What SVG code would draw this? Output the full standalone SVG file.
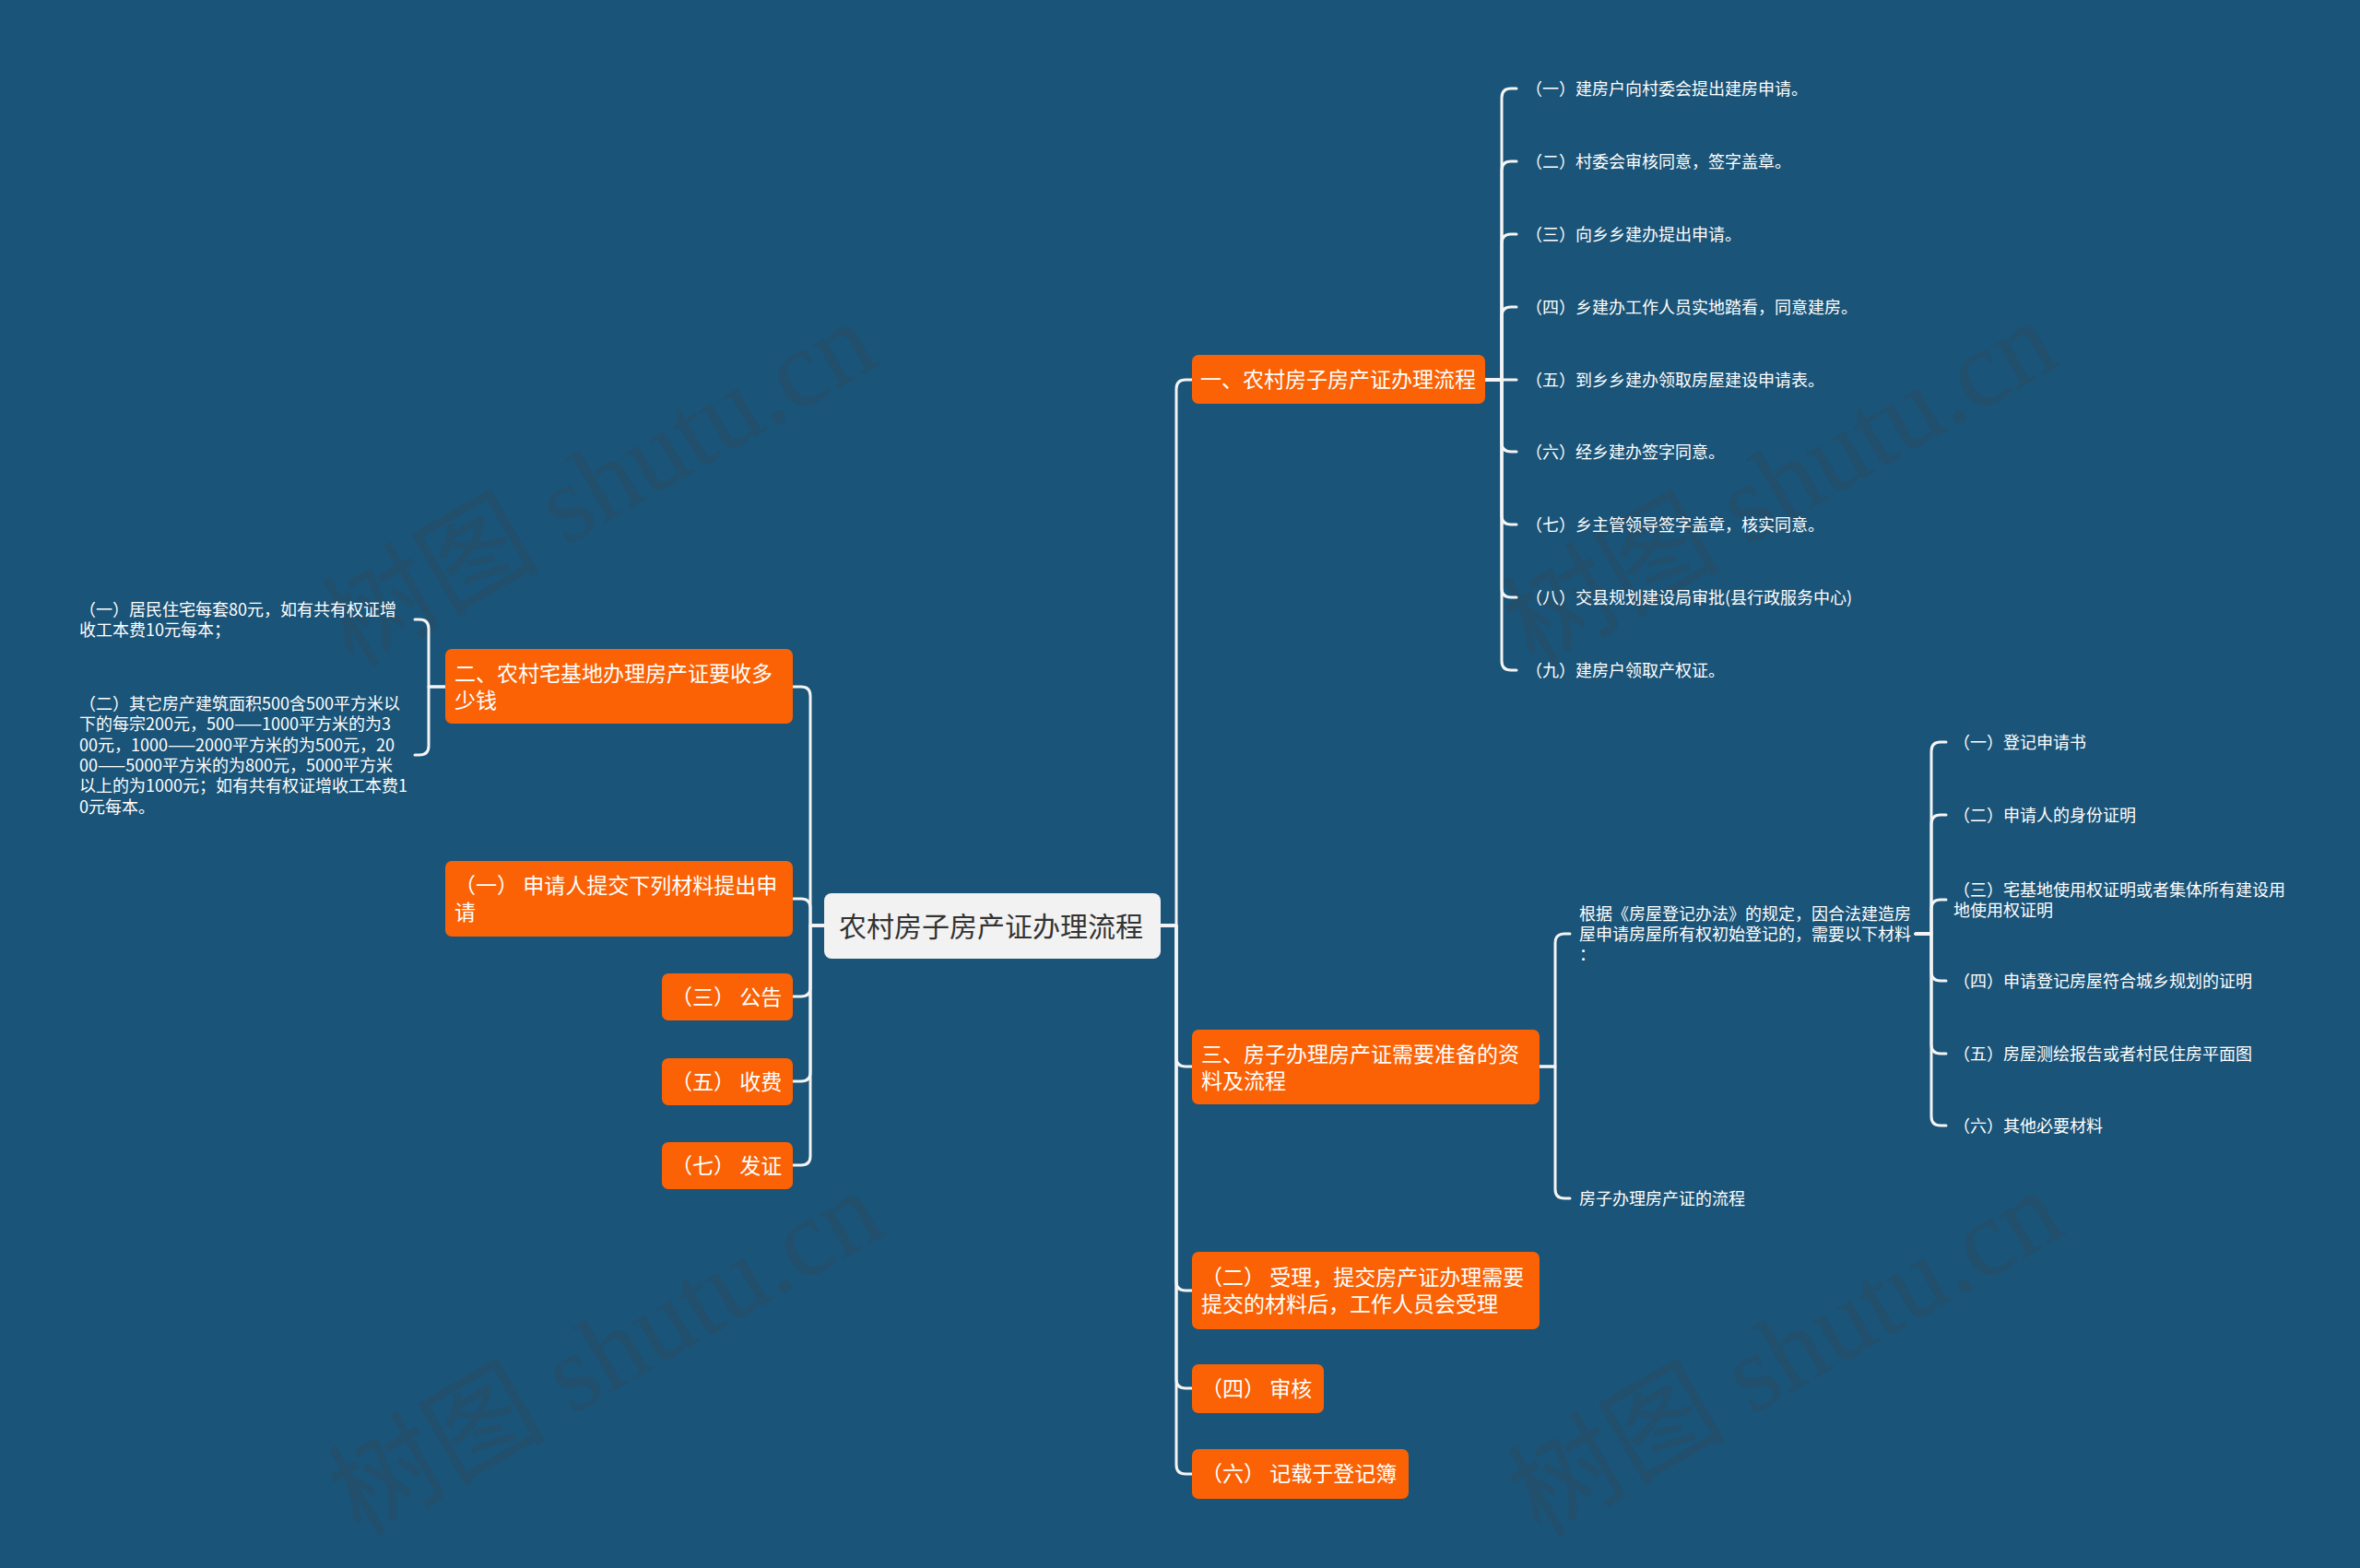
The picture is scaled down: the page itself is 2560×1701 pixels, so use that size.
<svg xmlns="http://www.w3.org/2000/svg" width="2560" height="1701" viewBox="0 0 2560 1701">
<style>
.bg{fill:#1a5478}
.wm{font-family:"Liberation Serif","Noto Sans CJK SC",serif;font-size:118px;fill:#3a4650;fill-opacity:0.28}
.root{fill:#f2f2f2}
.rootT{font-family:"Noto Sans CJK SC","Microsoft YaHei",sans-serif;font-size:30px;fill:#333333}
.box{fill:#fa6205}
.bt{font-family:"Noto Sans CJK SC","Microsoft YaHei",sans-serif;font-size:23px;fill:#ffffff}
.lt{font-family:"Noto Sans CJK SC","Microsoft YaHei",sans-serif;font-size:18px;fill:#ffffff}
.ln{fill:none;stroke:#f4f4f4;stroke-width:3;stroke-linecap:round;stroke-linejoin:round}
</style>
<rect class="bg" x="0" y="0" width="2560" height="1701"/>
<g id="watermark">
<text class="wm" x="383" y="725" transform="rotate(-30 383 725)">树图 shutu.cn</text>
<text class="wm" x="1664" y="725" transform="rotate(-30 1664 725)">树图 shutu.cn</text>
<text class="wm" x="390" y="1668" transform="rotate(-30 390 1668)">树图 shutu.cn</text>
<text class="wm" x="1670" y="1668" transform="rotate(-30 1670 1668)">树图 shutu.cn</text>
</g>
<g id="connectors" class="ln">
<path d="M1259 1004 H1276 V422 Q1276 412 1286 412 H1293"/>
<path d="M1259 1004 H1276 V1147 Q1276 1157 1286 1157 H1293"/>
<path d="M1259 1004 H1276 V1390 Q1276 1400 1286 1400 H1293"/>
<path d="M1259 1004 H1276 V1496 Q1276 1506 1286 1506 H1293"/>
<path d="M1259 1004 H1276 V1589 Q1276 1599 1286 1599 H1293"/>
<path d="M894 1004 H879 V755 Q879 745 869 745 H860"/>
<path d="M894 1004 H879 V985 Q879 975 869 975 H860"/>
<path d="M894 1004 H879 V1071 Q879 1081 869 1081 H860"/>
<path d="M894 1004 H879 V1163 Q879 1173 869 1173 H860"/>
<path d="M894 1004 H879 V1254 Q879 1264 869 1264 H860"/>
<path d="M1611 412 H1629 V106 Q1629 96 1639 96 H1645"/>
<path d="M1611 412 H1629 V185 Q1629 175 1639 175 H1645"/>
<path d="M1611 412 H1629 V264 Q1629 254 1639 254 H1645"/>
<path d="M1611 412 H1629 V343 Q1629 333 1639 333 H1645"/>
<path d="M1611 412 H1645"/>
<path d="M1611 412 H1629 V480 Q1629 490 1639 490 H1645"/>
<path d="M1611 412 H1629 V559 Q1629 569 1639 569 H1645"/>
<path d="M1611 412 H1629 V638 Q1629 648 1639 648 H1645"/>
<path d="M1611 412 H1629 V717 Q1629 727 1639 727 H1645"/>
<path d="M483 745 H465 V682 Q465 672 455 672 H450"/>
<path d="M483 745 H465 V809 Q465 819 455 819 H450"/>
<path d="M1670 1157 H1687 V1023 Q1687 1013 1697 1013 H1703"/>
<path d="M1670 1157 H1687 V1290 Q1687 1300 1697 1300 H1703"/>
<path d="M2078 1013 H2095 V815 Q2095 805 2105 805 H2111"/>
<path d="M2078 1013 H2095 V894 Q2095 884 2105 884 H2111"/>
<path d="M2078 1013 H2095 V986 Q2095 976 2105 976 H2111"/>
<path d="M2078 1013 H2095 V1054 Q2095 1064 2105 1064 H2111"/>
<path d="M2078 1013 H2095 V1133 Q2095 1143 2105 1143 H2111"/>
<path d="M2078 1013 H2095 V1211 Q2095 1221 2105 1221 H2111"/>
</g>
<g id="root">
<rect class="root" x="894" y="969" width="365" height="71" rx="8"/>
<text class="rootT" x="910" y="1016">农村房子房产证办理流程</text>
</g>
<g id="n1">
<rect class="box" x="1293" y="385" width="318" height="53" rx="7"/>
<text class="bt" x="1302" y="420">一、农村房子房产证办理流程</text>
</g>
<g id="n1-1"><text class="lt" x="1655" y="103">（一）建房户向村委会提出建房申请。</text></g>
<g id="n1-2"><text class="lt" x="1655" y="182">（二）村委会审核同意，签字盖章。</text></g>
<g id="n1-3"><text class="lt" x="1655" y="261">（三）向乡乡建办提出申请。</text></g>
<g id="n1-4"><text class="lt" x="1655" y="340">（四）乡建办工作人员实地踏看，同意建房。</text></g>
<g id="n1-5"><text class="lt" x="1655" y="419">（五）到乡乡建办领取房屋建设申请表。</text></g>
<g id="n1-6"><text class="lt" x="1655" y="497">（六）经乡建办签字同意。</text></g>
<g id="n1-7"><text class="lt" x="1655" y="576">（七）乡主管领导签字盖章，核实同意。</text></g>
<g id="n1-8"><text class="lt" x="1655" y="655">（八）交县规划建设局审批(县行政服务中心)</text></g>
<g id="n1-9"><text class="lt" x="1655" y="734">（九）建房户领取产权证。</text></g>
<g id="n3">
<rect class="box" x="1293" y="1117" width="377" height="81" rx="7"/>
<text class="bt" x="1303" y="1152">三、房子办理房产证需要准备的资</text>
<text class="bt" x="1303" y="1181">料及流程</text>
</g>
<g id="n3-1">
<text class="lt" x="1713" y="998">根据《房屋登记办法》的规定，因合法建造房</text>
<text class="lt" x="1713" y="1020">屋申请房屋所有权初始登记的，需要以下材料</text>
<text class="lt" x="1713" y="1042">：</text>
</g>
<g id="n3-2"><text class="lt" x="1713" y="1307">房子办理房产证的流程</text></g>
<g id="m1"><text class="lt" x="2119" y="812">（一）登记申请书</text></g>
<g id="m2"><text class="lt" x="2119" y="891">（二）申请人的身份证明</text></g>
<g id="m3">
<text class="lt" x="2119" y="972">（三）宅基地使用权证明或者集体所有建设用</text>
<text class="lt" x="2119" y="994">地使用权证明</text>
</g>
<g id="m4"><text class="lt" x="2119" y="1071">（四）申请登记房屋符合城乡规划的证明</text></g>
<g id="m5"><text class="lt" x="2119" y="1150">（五）房屋测绘报告或者村民住房平面图</text></g>
<g id="m6"><text class="lt" x="2119" y="1228">（六）其他必要材料</text></g>
<g id="r2">
<rect class="box" x="1293" y="1358" width="377" height="84" rx="7"/>
<text class="bt" x="1303" y="1394">（二） 受理，提交房产证办理需要</text>
<text class="bt" x="1303" y="1423">提交的材料后，工作人员会受理</text>
</g>
<g id="r4">
<rect class="box" x="1293" y="1480" width="143" height="53" rx="7"/>
<text class="bt" x="1303" y="1515">（四） 审核</text>
</g>
<g id="r6">
<rect class="box" x="1293" y="1572" width="235" height="54" rx="7"/>
<text class="bt" x="1303" y="1607">（六） 记载于登记簿</text>
</g>
<g id="n2">
<rect class="box" x="483" y="704" width="377" height="81" rx="7"/>
<text class="bt" x="493" y="739">二、农村宅基地办理房产证要收多</text>
<text class="bt" x="493" y="768">少钱</text>
</g>
<g id="n2-1">
<text class="lt" x="86" y="668">（一）居民住宅每套80元，如有共有权证增</text>
<text class="lt" x="86" y="690">收工本费10元每本；</text>
</g>
<g id="n2-2">
<text class="lt" x="86" y="770">（二）其它房产建筑面积500含500平方米以</text>
<text class="lt" x="86" y="792">下的每宗200元，500——1000平方米的为3</text>
<text class="lt" x="86" y="815">00元，1000——2000平方米的为500元，20</text>
<text class="lt" x="86" y="837">00——5000平方米的为800元，5000平方米</text>
<text class="lt" x="86" y="859">以上的为1000元；如有共有权证增收工本费1</text>
<text class="lt" x="86" y="882">0元每本。</text>
</g>
<g id="l1">
<rect class="box" x="483" y="934" width="377" height="82" rx="7"/>
<text class="bt" x="493" y="969">（一） 申请人提交下列材料提出申</text>
<text class="bt" x="493" y="998">请</text>
</g>
<g id="l3">
<rect class="box" x="718" y="1056" width="142" height="51" rx="7"/>
<text class="bt" x="728" y="1090">（三） 公告</text>
</g>
<g id="l5">
<rect class="box" x="718" y="1148" width="142" height="51" rx="7"/>
<text class="bt" x="728" y="1182">（五） 收费</text>
</g>
<g id="l7">
<rect class="box" x="718" y="1239" width="142" height="51" rx="7"/>
<text class="bt" x="728" y="1273">（七） 发证</text>
</g>
</svg>
